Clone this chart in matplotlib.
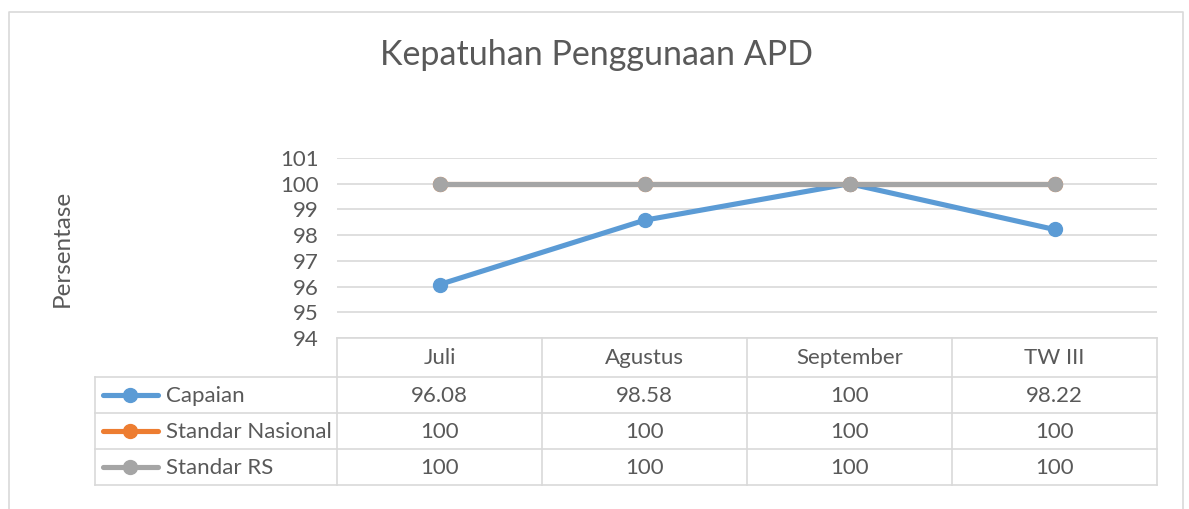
import matplotlib
matplotlib.use("Agg")
import matplotlib.pyplot as plt
from matplotlib.lines import Line2D

categories = ["Juli", "Agustus", "September", "TW III"]
capaian = [96.08, 98.58, 100, 98.22]
standar_nasional = [100, 100, 100, 100]
standar_rs = [100, 100, 100, 100]
series_names = ["Capaian", "Standar Nasional", "Standar RS"]
series_values = [capaian, standar_nasional, standar_rs]
series_colors = ["#5B9BD5", "#ED7D31", "#A5A5A5"]
yticks = [94, 95, 96, 97, 98, 99, 100, 101]

W, H = 1189, 509
plt.rcParams['font.family'] = ['Lato', 'DejaVu Sans']
fig = plt.figure(figsize=(W / 100, H / 100), dpi=100)

def fx(px):
    return px / W

def fy(py):
    return 1 - py / H

# overlay for frame and table
ov = fig.add_axes([0, 0, 1, 1])
ov.set_xlim(0, W)
ov.set_ylim(H, 0)
ov.axis("off")
text_color = "#595959"
grid_color = "#D9D9D9"
fs = 16
lw = 3.7

# outer chart border
ov.plot([9, 9, 1183, 1183], [H + 5, 12, 12, H + 5], color=grid_color, lw=1.2)

# plot area
x0, x1 = 337, 1157
y_top, y_bot = 158, 338
ax = fig.add_axes([fx(x0), fy(y_bot), fx(x1 - x0), (y_bot - y_top) / H])
n = len(categories)
xs = list(range(n))
ax.set_xlim(-0.5, n - 0.5)
ax.set_ylim(94, 101)
ax.set_yticks(yticks)
ax.set_yticklabels([str(t) for t in yticks], fontsize=fs, color=text_color)
ax.tick_params(axis="y", length=0, pad=13)
ax.set_xticks([])
for s in ax.spines.values():
    s.set_visible(False)
for t in yticks:
    ax.axhline(t, color=grid_color, lw=1.2, zorder=0)
ax.set_facecolor("none")
for name, vals, col in zip(series_names, series_values, series_colors):
    ax.plot(xs, vals, color=col, lw=lw, marker="o", markersize=10,
            solid_capstyle="round", zorder=3)

fig.text(fx(62), fy(248), "Persentase", rotation=90, fontsize=17.5,
         color=text_color, ha="center", va="center")
fig.text(fx(597), fy(55), "Kepatuhan Penggunaan APD", fontsize=24.5,
         color=text_color, ha="center", va="center")

# data table
col_w = (x1 - x0) / n
leg_x0 = 95
row_edges = [338, 377, 413, 449, 485]
lc = "#D9D9D9"
ov.plot([x0, x1], [row_edges[0]] * 2, color=lc, lw=1.2)
for r in row_edges[1:]:
    ov.plot([leg_x0, x1], [r, r], color=lc, lw=1.2)
ov.plot([leg_x0, leg_x0], [row_edges[1], row_edges[-1]], color=lc, lw=1.2)
for i in range(n + 1):
    xv = x0 + i * col_w
    ov.plot([xv, xv], [row_edges[0], row_edges[-1]], color=lc, lw=1.2)

for i, c in enumerate(categories):
    ov.text(x0 + (i + 0.5) * col_w, (row_edges[0] + row_edges[1]) / 2 + 1, c,
            fontsize=fs, color=text_color, ha="center", va="center")

for j, (name, vals, col) in enumerate(zip(series_names, series_values, series_colors)):
    yc = (row_edges[j + 1] + row_edges[j + 2]) / 2
    ov.add_line(Line2D([103, 158], [yc, yc], color=col, lw=lw,
                       solid_capstyle="round"))
    ov.plot([130], [yc], marker="o", markersize=10, color=col)
    ov.text(166, yc + 1, name, fontsize=fs, color=text_color, ha="left", va="center")
    for i, v in enumerate(vals):
        ov.text(x0 + (i + 0.5) * col_w, yc + 1, f"{v:g}", fontsize=fs,
                color=text_color, ha="center", va="center")

fig.savefig("out.png", dpi=100, facecolor="white")
